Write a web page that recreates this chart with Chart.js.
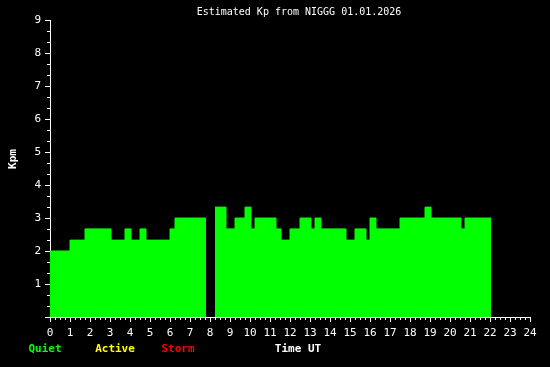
<!DOCTYPE html>
<html>
<head>
<meta charset="utf-8">
<script src="https://cdn.jsdelivr.net/npm/chart.js@4"></script>
<style>
  html, body { margin: 0; padding: 0; background: #000; }
  #wrap { width: 550px; height: 367px; }
</style>
</head>
<body>
<div id="wrap"><canvas id="kp"></canvas></div>
<script>
// Kp steps: each value holds from its time until the next time (hours UT)
const times = [0, 1.0, 1.75, 3.05, 3.75, 4.05, 4.5, 4.8, 6.0, 6.25, 7.8, 8.0,
  8.25, 8.8, 9.25, 9.75, 10.05, 10.25, 11.3, 11.55, 12.0, 12.5, 13.05, 13.25,
  13.55, 14.8, 15.25, 15.8, 16.0, 16.3, 17.5, 18.75, 19.05, 20.55, 20.75, 22.05];
const kpValues = [2, 2.33, 2.67, 2.33, 2.67, 2.33, 2.67, 2.33, 2.67, 3.0, 3.0, null,
  3.33, 2.67, 3.0, 3.33, 2.67, 3.0, 2.67, 2.33, 2.67, 3.0, 2.67, 3.0,
  2.67, 2.33, 2.67, 2.33, 3.0, 2.67, 3.0, 3.33, 3.0, 2.67, 3.0, 3.0];
const title = 'Estimated Kp from NIGGG 01.01.2026';
const legendItems = [
  { text: 'Quiet', color: '#00ff00', x: 45 },
  { text: 'Active', color: '#ffff00', x: 115 },
  { text: 'Storm', color: '#ff0000', x: 178 },
  { text: 'Time UT', color: '#ffffff', x: 298 }
];

const MONO = '"DejaVu Sans Mono", "Liberation Mono", monospace';

// Minor ticks + texts drawn on top
const decorPlugin = {
  id: 'decor',
  afterDraw(chart) {
    const ctx = chart.ctx;
    const xs = chart.scales.x, ys = chart.scales.y;
    const area = chart.chartArea;
    ctx.save();
    ctx.strokeStyle = '#fff';
    ctx.lineWidth = 1;
    ctx.beginPath();
    // x minor ticks every 15 min
    for (let i = 0; i <= 96; i++) {
      if (i % 4 === 0) continue;
      const px = Math.round(xs.getPixelForValue(i / 4)) + 0.5;
      ctx.moveTo(px, area.bottom);
      ctx.lineTo(px, area.bottom + 3);
    }
    // y minor ticks every 1/3
    for (let i = 0; i <= 27; i++) {
      if (i % 3 === 0) continue;
      const py = Math.round(ys.getPixelForValue(i / 3)) + 0.5;
      ctx.moveTo(area.left - 3, py);
      ctx.lineTo(area.left, py);
    }
    ctx.stroke();

    ctx.fillStyle = '#fff';
    ctx.textBaseline = 'middle';
    ctx.textAlign = 'center';
    ctx.font = '10px ' + MONO;
    ctx.fillText(title, 299, 12);

    ctx.font = 'bold 11px ' + MONO;
    legendItems.forEach(it => {
      ctx.fillStyle = it.color;
      ctx.fillText(it.text, it.x, 349);
    });

    ctx.fillStyle = '#fff';
    ctx.translate(13, 159);
    ctx.rotate(-Math.PI / 2);
    ctx.fillText('Kpm', 0, 0);
    ctx.restore();
  }
};

new Chart(document.getElementById('kp'), {
  type: 'line',
  data: {
    datasets: [{
      data: times.map((t, i) => ({ x: t, y: kpValues[i] })),
      stepped: true,
      fill: 'origin',
      backgroundColor: '#00ff00',
      borderColor: '#00ff00',
      borderWidth: 1,
      pointRadius: 0,
      spanGaps: false
    }]
  },
  options: {
    responsive: true,
    maintainAspectRatio: false,
    animation: false,
    events: [],
    layout: { padding: { top: 20, right: 20, left: 0, bottom: 0 } },
    plugins: { legend: { display: false }, tooltip: { enabled: false } },
    scales: {
      x: {
        type: 'linear',
        min: 0,
        max: 24,
        ticks: { stepSize: 1, color: '#fff', font: { family: MONO, size: 11 }, padding: 5, maxRotation: 0, autoSkip: false },
        grid: { drawOnChartArea: false, drawTicks: true, tickLength: 5, tickColor: '#fff' },
        border: { display: true, color: '#fff' },
        afterFit: s => { s.height = 50; }
      },
      y: {
        min: 0,
        max: 9,
        ticks: { stepSize: 1, color: '#fff', font: { family: MONO, size: 11 }, padding: 4,
          callback: v => v === 0 ? '' : v },
        grid: { drawOnChartArea: false, drawTicks: true, tickLength: 5, tickColor: '#fff' },
        border: { display: true, color: '#fff' },
        afterFit: s => { s.width = 50; }
      }
    }
  },
  plugins: [decorPlugin]
});
</script>
</body>
</html>
